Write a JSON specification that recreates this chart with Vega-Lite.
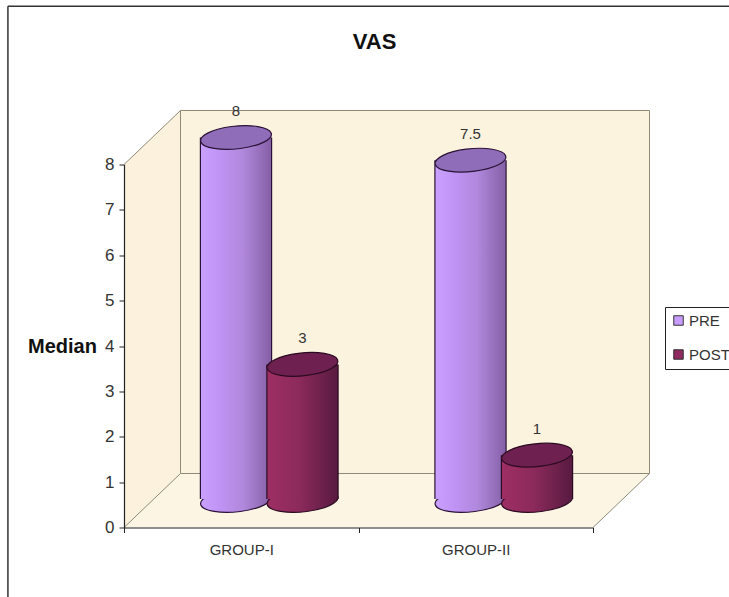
{
"$schema":"https://vega.github.io/schema/vega-lite/v6.json",
"width":469,"height":363,
"autosize":"none",
"padding":{"left":124,"top":164.5,"right":136,"bottom":69.5},
"background":"white",
"config":{"view":{"stroke":null},"font":"Liberation Sans"},
"title":{"text":"VAS","font":"Liberation Sans","fontSize":22,"fontWeight":"bold","color":"#111","anchor":"middle","dx":16,"offset":-49},
"datasets":{
"bars":[
{"group":"GROUP-I","series":"PRE","value":8,"base":0},
{"group":"GROUP-I","series":"POST","value":3,"base":0},
{"group":"GROUP-II","series":"PRE","value":7.5,"base":0},
{"group":"GROUP-II","series":"POST","value":1,"base":0}
],
"edges":[
{"x0":0.241,"y0":1.19,"x1":0.241,"y1":9.19},
{"x0":0.241,"y0":9.19,"x1":2.241,"y1":9.19},
{"x0":2.241,"y0":1.19,"x1":2.241,"y1":9.19},
{"x0":0.241,"y0":1.19,"x1":2.241,"y1":1.19},
{"x0":0,"y0":0,"x1":0.241,"y1":1.19},
{"x0":0,"y0":8,"x1":0.241,"y1":9.19},
{"x0":2,"y0":0,"x1":2.241,"y1":1.19}
],
"frame":[
{"x0":-0.495,"y0":-1.6,"x1":-0.495,"y1":11.49},
{"x0":-0.495,"y0":11.49,"x1":2.6,"y1":11.49}
]
},
"resolve":{"scale":{"x":"independent","y":"independent"},"axis":{"x":"independent","y":"independent"}},
"layer":[
{"encoding":{
"x":{"field":"x","type":"quantitative","scale":{"domain":[0,2],"nice":false,"zero":false},"axis":null},
"y":{"field":"y","type":"quantitative","scale":{"domain":[0,8],"nice":false,"zero":false},"axis":null},
"y2":{"field":"y2"}},
"layer":[
{"data":{"values":[{"x":0.241,"y":1.19,"y2":9.19},{"x":2.241,"y":1.19,"y2":9.19}]},"mark":{"type":"area","color":"#FCF3DF"}},
{"data":{"values":[{"x":0,"y":0,"y2":8},{"x":0.241,"y":1.19,"y2":9.19}]},"mark":{"type":"area","color":"#FBF1DC"}},
{"data":{"values":[{"x":0,"y":0,"y2":0},{"x":0.241,"y":0,"y2":1.19},{"x":2,"y":0,"y2":1.19},{"x":2.241,"y":1.19,"y2":1.19}]},"mark":{"type":"area","color":"#FDF5E3"}},
{"data":{"name":"edges"},"mark":{"type":"rule","color":"#8F8A78","strokeWidth":1},
"encoding":{"x":{"field":"x0","type":"quantitative","scale":{"domain":[0,2],"nice":false,"zero":false},"axis":null},"y":{"field":"y0","type":"quantitative","axis":null},"x2":{"field":"x1"},"y2":{"field":"y1"}}},
{"data":{"name":"frame"},"mark":{"type":"rule","color":"#333333","strokeWidth":1.5},
"encoding":{"x":{"field":"x0","type":"quantitative","scale":{"domain":[0,2],"nice":false,"zero":false},"axis":null},"y":{"field":"y0","type":"quantitative","axis":null},"x2":{"field":"x1"},"y2":{"field":"y1"}}}
]},
{"data":{"name":"bars"},
"encoding":{
"x":{"field":"group","type":"nominal","scale":{"type":"band","domain":["GROUP-I","GROUP-II"],"padding":0},
"axis":{"title":null,"zindex":1,"labelAngle":0,"tickBand":"extent","tickSize":5,"tickColor":"#222","domainColor":"#222","domainWidth":1.2,"labelFontSize":15,"labelColor":"#333","labelPadding":10,"labelFont":"Liberation Sans","grid":false}},
"xOffset":{"field":"series","type":"nominal","scale":{"type":"band","domain":["PRE","POST"],"range":[78.75,211.75],"padding":0}},
"y":{"field":"value","type":"quantitative","scale":{"domain":[0,8],"nice":false,"zero":false},
"axis":{"title":"Median","zindex":1,"orient":"left","titleAngle":0,"titleX":-62,"titleY":181.5,"titleAlign":"center","titleBaseline":"middle","titleFontSize":20,"titleFontWeight":"bold","titleColor":"#111","titleFont":"Liberation Sans","values":[0,1,2,3,4,5,6,7,8],"tickSize":5,"tickColor":"#222","domainColor":"#222","domainWidth":1.2,"labelFontSize":17,"labelColor":"#333","labelPadding":5,"labelFont":"Liberation Sans","grid":false,"format":"d"}}
},
"layer":[
{"mark":{"type":"bar","width":70,"yOffset":-27,"y2Offset":-28.5},
"encoding":{"y2":{"datum":0},"color":{"field":"series","type":"nominal","scale":{"domain":["PRE","POST"],"range":["#C89CFF","#8F2A5E"]},
"legend":{"title":null,"orient":"none","legendX":541,"legendY":142.5,"fillColor":"white","strokeColor":"#222","padding":6,"symbolType":"square","symbolSize":90,"symbolStrokeColor":"#333","symbolStrokeWidth":1,"labelFontSize":15,"labelColor":"#333","labelFont":"Liberation Sans","rowPadding":18,"labelOffset":3,"symbolOpacity":1}}}},

{"transform":[{"filter":"datum.series==='PRE'"}],"mark":{"type":"point","filled":true,"opacity":1,"size":5041,"yOffset":-27,"shape":"M.99,-.127 C1.056,.044 .667,.24 .12,.31 C-.427,.38 -.924,.298 -.99,.127 C-1.056,-.044 -.667,-.24 -.12,-.31 C.427,-.38 .924,-.298 .99,-.127Z","strokeWidth":1.2,"stroke":"#2A1236","fill":{"gradient":"linear","x1":0,"x2":1,"y1":0,"y2":0,"stops":[{"offset":0,"color":"#C9A0FF"},{"offset":0.3,"color":"#BE92F2"},{"offset":0.6,"color":"#B088DC"},{"offset":1,"color":"#8560A6"}]}},
"encoding":{"y":{"field":"base","type":"quantitative","title":"Median"}}},
{"transform":[{"filter":"datum.series==='PRE'"}],"mark":{"type":"bar","width":72.4,"yOffset":-27,"y2Offset":-28.5,"color":"#2A1236"},"encoding":{"y2":{"datum":0}}},
{"transform":[{"filter":"datum.series==='PRE'"}],"mark":{"type":"bar","width":70,"yOffset":-27,"y2Offset":-28.5,"color":{"gradient":"linear","x1":0,"x2":1,"y1":0,"y2":0,"stops":[{"offset":0,"color":"#C9A0FF"},{"offset":0.3,"color":"#BE92F2"},{"offset":0.6,"color":"#B088DC"},{"offset":1,"color":"#8560A6"}]}},"encoding":{"y2":{"datum":0}}},
{"transform":[{"filter":"datum.series==='PRE'"}],"mark":{"type":"point","filled":true,"opacity":1,"size":5041,"yOffset":-27,"shape":"M.99,-.127 C1.056,.044 .667,.24 .12,.31 C-.427,.38 -.924,.298 -.99,.127 C-1.056,-.044 -.667,-.24 -.12,-.31 C.427,-.38 .924,-.298 .99,-.127Z","strokeWidth":1.2,"stroke":"#2A1236","fill":"#8F6DB8"}},

{"transform":[{"filter":"datum.series==='POST'"}],"mark":{"type":"point","filled":true,"opacity":1,"size":5041,"yOffset":-27,"shape":"M.99,-.127 C1.056,.044 .667,.24 .12,.31 C-.427,.38 -.924,.298 -.99,.127 C-1.056,-.044 -.667,-.24 -.12,-.31 C.427,-.38 .924,-.298 .99,-.127Z","strokeWidth":1.2,"stroke":"#2A0A20","fill":{"gradient":"linear","x1":0,"x2":1,"y1":0,"y2":0,"stops":[{"offset":0,"color":"#9E2E64"},{"offset":0.45,"color":"#8C2A5C"},{"offset":1,"color":"#581A40"}]}},
"encoding":{"y":{"field":"base","type":"quantitative","title":"Median"}}},
{"transform":[{"filter":"datum.series==='POST'"}],"mark":{"type":"bar","width":72.4,"yOffset":-27,"y2Offset":-28.5,"color":"#2A0A20"},"encoding":{"y2":{"datum":0}}},
{"transform":[{"filter":"datum.series==='POST'"}],"mark":{"type":"bar","width":70,"yOffset":-27,"y2Offset":-28.5,"color":{"gradient":"linear","x1":0,"x2":1,"y1":0,"y2":0,"stops":[{"offset":0,"color":"#9E2E64"},{"offset":0.45,"color":"#8C2A5C"},{"offset":1,"color":"#581A40"}]}},"encoding":{"y2":{"datum":0}}},
{"transform":[{"filter":"datum.series==='POST'"}],"mark":{"type":"point","filled":true,"opacity":1,"size":5041,"yOffset":-27,"shape":"M.99,-.127 C1.056,.044 .667,.24 .12,.31 C-.427,.38 -.924,.298 -.99,.127 C-1.056,-.044 -.667,-.24 -.12,-.31 C.427,-.38 .924,-.298 .99,-.127Z","strokeWidth":1.2,"stroke":"#2A0A20","fill":"#6E2150"}},

{"mark":{"type":"text","yOffset":-53.5,"fontSize":15,"color":"#333","font":"Liberation Sans","baseline":"middle"},"encoding":{"text":{"field":"value","type":"quantitative"}}}
]}
]
}
